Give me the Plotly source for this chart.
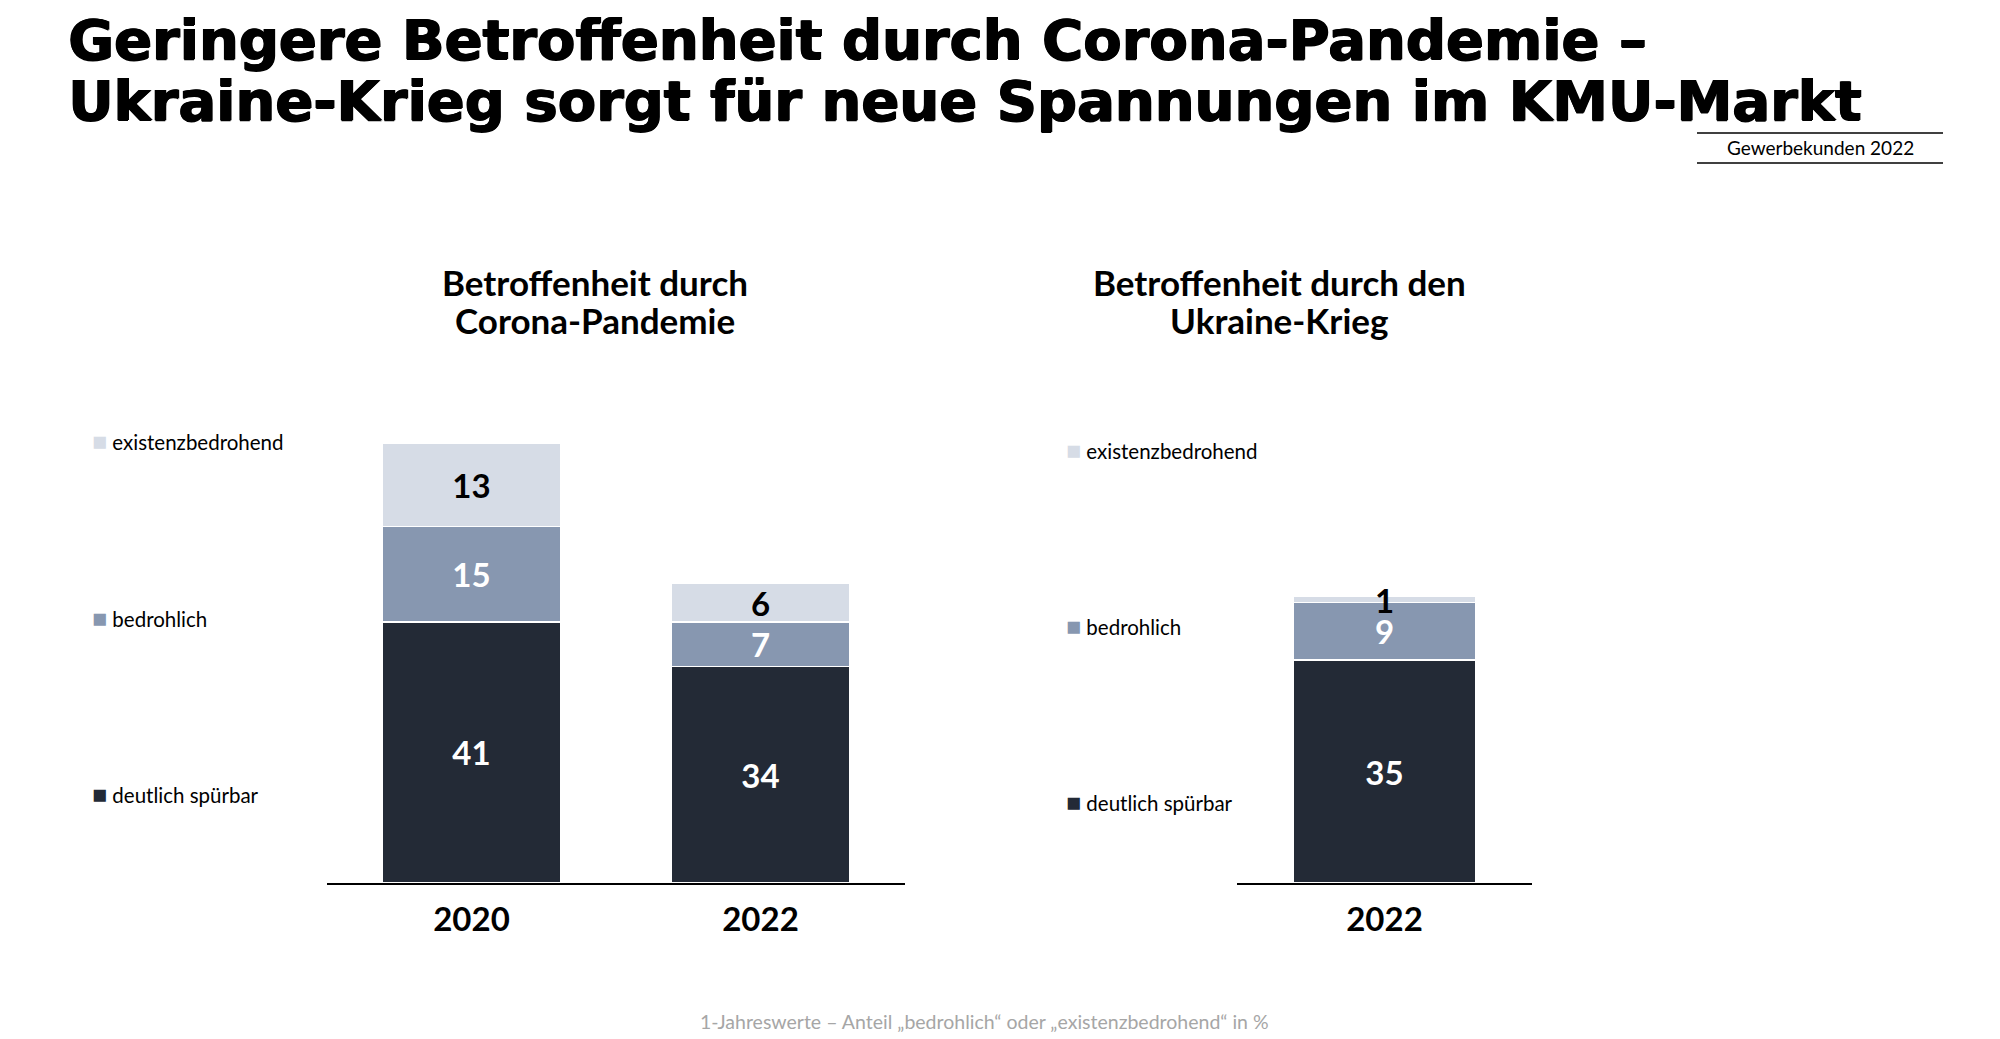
import plotly.graph_objects as go

# Werte aus der Grafik (Anteile in %)
corona_years = ["2020", "2022"]
corona_spuerbar = [41, 34]
corona_bedrohlich = [15, 7]
corona_existenz = [13, 6]

ukraine_years = ["2022"]
ukraine_spuerbar = [35]
ukraine_bedrohlich = [9]
ukraine_existenz = [1]

series_names = ["deutlich spürbar", "bedrohlich", "existenzbedrohend"]
series_colors = ["#232a36", "#8797b0", "#d6dce6"]
label_colors = ["white", "white", "black"]

W, H = 2000, 1039
FONT = "Lato"
OFFSET = 8  # page body margin of the html output


def px_x(x):
    return (x - OFFSET) / W


def px_y(y):
    return 1 - (y - OFFSET) / H


def add_stack(fig, years, values, xaxis, yaxis):
    for name, vals, color, tcolor in zip(series_names, values, series_colors, label_colors):
        fig.add_trace(go.Bar(
            x=years, y=vals, name=name,
            xaxis=xaxis, yaxis=yaxis,
            width=0.62,
            marker=dict(color=color, line=dict(color="white", width=1.5)),
            text=vals, textposition="inside", insidetextanchor="middle",
            textangle=0, constraintext="none",
            textfont=dict(family=FONT, size=33, color=tcolor, weight="bold"),
            hoverinfo="skip", showlegend=False,
        ))


fig = go.Figure()
add_stack(fig, corona_years, [corona_spuerbar, corona_bedrohlich, corona_existenz], "x", "y")
add_stack(fig, ukraine_years, [ukraine_spuerbar, ukraine_bedrohlich, ukraine_existenz], "x2", "y2")

baseline = px_y(883)
y_top = (883 - OFFSET) / 6.37

axis_common = dict(
    type="category", showline=True, linecolor="black", linewidth=2,
    ticks="", showgrid=False, zeroline=False, fixedrange=True,
    tickfont=dict(family=FONT, size=33, color="black", weight="bold"),
    ticklabelstandoff=6,
)
yaxis_common = dict(range=[0, y_top], domain=[baseline, 1], visible=False, fixedrange=True)

fig.update_layout(
    width=W, height=H,
    margin=dict(l=0, r=0, t=0, b=0),
    paper_bgcolor="white", plot_bgcolor="white",
    barmode="stack",
    xaxis=dict(domain=[px_x(327), px_x(905)], range=[-0.5, 1.5], anchor="y", **axis_common),
    yaxis=dict(anchor="x", **yaxis_common),
    xaxis2=dict(domain=[px_x(1237), px_x(1532)], range=[-0.5, 0.5], anchor="y2", **axis_common),
    yaxis2=dict(anchor="x2", **yaxis_common),
)

annotations = []

# Haupttitel
title_lines = [
    ("Geringere Betroffenheit durch Corona-Pandemie –", 39),
    ("Ukraine-Krieg sorgt für neue Spannungen im KMU-Markt", 100),
]
for text, y in title_lines:
    annotations.append(dict(
        text=text, x=px_x(66), y=px_y(y), xanchor="left", yanchor="middle",
        font=dict(family="DejaVu Sans", size=56, color="black", weight="bold",
                  shadow="1px 0 0 #000, -0.6px 0 0 #000, 0 0.8px 0 #000"),
    ))

# Untertitel der beiden Diagramme
subtitles = [
    (595, ["Betroffenheit durch", "Corona-Pandemie"]),
    (1279, ["Betroffenheit durch den", "Ukraine-Krieg"]),
]
for x, lines in subtitles:
    for text, y in zip(lines, [282, 320]):
        annotations.append(dict(
            text=text, x=px_x(x), y=px_y(y), xanchor="center", yanchor="middle",
            font=dict(family=FONT, size=35, color="black", weight="bold"),
        ))

# Legenden links neben den Balken
legend_rows = {
    90: [793, 617, 440],
    1064: [801, 625, 449],
}
for x, ys in legend_rows.items():
    for name, color, y in zip(series_names, series_colors, ys):
        annotations.append(dict(
            text=f'<span style="color:{color};font-size:25px">■</span> {name}',
            x=px_x(x), y=px_y(y), xanchor="left", yanchor="middle",
            font=dict(family=FONT, size=20.5, color="black"),
        ))

# Kennzeichnung oben rechts
annotations.append(dict(
    text="Gewerbekunden 2022", x=px_x(1820), y=px_y(148),
    xanchor="center", yanchor="middle",
    font=dict(family=FONT, size=19, color="black"),
))

# Fußnote
annotations.append(dict(
    text="1-Jahreswerte – Anteil „bedrohlich“ oder „existenzbedrohend“ in %",
    x=px_x(984), y=px_y(1021), xanchor="center", yanchor="middle",
    font=dict(family=FONT, size=19.5, color="#a6a6a6"),
))

for a in annotations:
    a.update(xref="paper", yref="paper", showarrow=False)
fig.update_layout(annotations=annotations)

for y in (133, 163):
    fig.add_shape(type="line", xref="paper", yref="paper",
                  x0=px_x(1697), x1=px_x(1943), y0=px_y(y), y1=px_y(y),
                  line=dict(color="black", width=1.5))

fig.write_html("out.html")
